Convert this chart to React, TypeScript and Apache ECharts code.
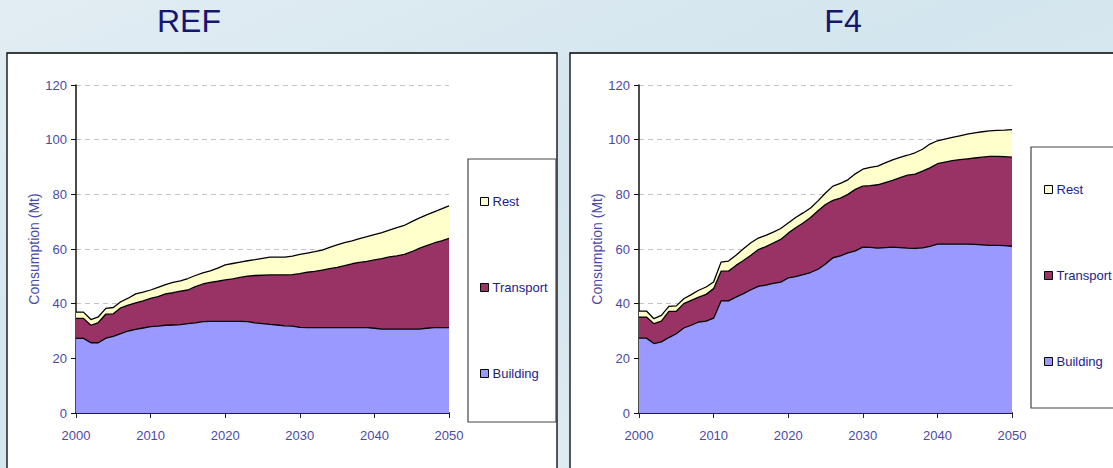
import React, { useEffect, useRef } from "react";
import * as echarts from "echarts";

// Years on the horizontal axis
const years = [
  "2000", "2001", "2002", "2003", "2004", "2005", "2006", "2007", "2008", "2009",
  "2010", "2011", "2012", "2013", "2014", "2015", "2016", "2017", "2018", "2019",
  "2020", "2021", "2022", "2023", "2024", "2025", "2026", "2027", "2028", "2029",
  "2030", "2031", "2032", "2033", "2034", "2035", "2036", "2037", "2038", "2039",
  "2040", "2041", "2042", "2043", "2044", "2045", "2046", "2047", "2048", "2049",
  "2050",
];
const labelledYears = ["2000", "2010", "2020", "2030", "2040", "2050"];

// REF scenario, consumption in Mt per sector
const refBuilding = [
  27.3, 27.3, 25.7, 25.7, 27.4, 28.0, 29.0, 30.0, 30.6, 31.1,
  31.6, 31.8, 32.1, 32.2, 32.3, 32.7, 33.0, 33.4, 33.5, 33.5,
  33.5, 33.5, 33.5, 33.4, 33.0, 32.7, 32.4, 32.2, 31.9, 31.8,
  31.3, 31.2, 31.2, 31.2, 31.2, 31.2, 31.2, 31.2, 31.2, 31.2,
  31.0, 30.7, 30.7, 30.7, 30.7, 30.7, 30.7, 31.0, 31.2, 31.2,
  31.2,
];
const refTransport = [
  7.3, 7.3, 6.4, 7.4, 8.8, 8.3, 9.5, 9.5, 9.7, 9.9,
  10.3, 10.8, 11.5, 11.8, 12.3, 12.3, 13.2, 13.8, 14.3, 14.7,
  15.2, 15.6, 16.1, 16.7, 17.3, 17.7, 18.1, 18.3, 18.6, 18.8,
  19.7, 20.3, 20.6, 21.1, 21.6, 22.1, 22.7, 23.4, 23.9, 24.3,
  25.0, 25.8, 26.4, 26.8, 27.3, 28.3, 29.5, 30.2, 31.0, 31.8,
  32.7,
];
const refRest = [
  2.3, 2.3, 2.1, 2.1, 2.1, 2.3, 2.2, 2.5, 3.3, 3.2,
  3.1, 3.4, 3.4, 3.8, 3.7, 4.2, 4.1, 4.1, 4.2, 4.8,
  5.5, 5.6, 5.6, 5.6, 5.8, 6.2, 6.5, 6.5, 6.5, 6.8,
  7.0, 7.0, 7.2, 7.3, 7.8, 8.2, 8.4, 8.4, 8.7, 9.0,
  9.3, 9.5, 9.8, 10.3, 10.6, 11.0, 11.1, 11.3, 11.4, 11.7,
  11.9,
];

// F4 scenario, consumption in Mt per sector
const f4Building = [
  27.4, 27.4, 25.4, 26.0, 27.6, 29.0, 31.1, 32.1, 33.3, 33.6,
  34.7, 41.0, 41.0, 42.4, 43.7, 45.1, 46.3, 46.8, 47.4, 47.9,
  49.4, 49.9, 50.6, 51.4, 52.6, 54.5, 56.8, 57.5, 58.6, 59.3,
  60.7, 60.6, 60.3, 60.5, 60.7, 60.5, 60.3, 60.2, 60.4, 61.0,
  61.8, 61.8, 61.8, 61.8, 61.8, 61.7, 61.5, 61.3, 61.3, 61.2,
  61.0,
];
const f4Transport = [
  7.7, 7.7, 7.3, 7.6, 9.6, 8.2, 8.9, 9.1, 9.1, 9.8,
  10.8, 10.9, 10.9, 11.6, 12.1, 12.6, 13.5, 14.1, 14.8, 15.6,
  16.4, 17.9, 18.9, 20.1, 21.4, 21.8, 21.0, 21.1, 21.4, 22.5,
  22.3, 22.6, 23.2, 23.8, 24.4, 25.6, 26.7, 27.2, 28.1, 28.7,
  29.4, 30.0, 30.5, 30.9, 31.2, 31.6, 32.1, 32.6, 32.6, 32.6,
  32.6,
];
const f4Rest = [
  2.2, 2.2, 1.8, 2.1, 1.8, 2.0, 1.8, 2.1, 2.5, 2.7,
  2.4, 3.3, 3.7, 3.7, 4.3, 4.6, 4.2, 4.1, 4.0, 4.0,
  3.7, 3.7, 3.7, 3.5, 3.6, 4.2, 5.2, 5.4, 5.3, 5.7,
  6.2, 6.7, 6.8, 7.2, 7.5, 7.4, 7.3, 7.8, 8.0, 8.7,
  8.4, 8.4, 8.5, 8.7, 9.0, 9.2, 9.3, 9.3, 9.5, 9.7,
  10.1,
];

const panelTitles = ["REF", "F4"];
const axisTitle = "Consumption (Mt)";
const legendOrder = ["Rest", "Transport", "Building"];
const sectorColors: Record<string, string> = {
  Building: "#9999ff",
  Transport: "#993366",
  Rest: "#ffffcc",
};

const FONT = "'Liberation Sans', Arial, sans-serif";
const AXIS_TEXT = "#4a4aa6";
const LEGEND_TEXT = "#1c1c8c";

export default function App() {
  const ref = useRef<HTMLDivElement>(null);

  useEffect(() => {
    document.body.style.margin = "0";
    const chart = echarts.init(ref.current!, null, { renderer: "svg" });

    const panels = [
      { building: refBuilding, transport: refTransport, rest: refRest },
      { building: f4Building, transport: f4Transport, rest: f4Rest },
    ];
    const gridLeft = [76, 639];

    const xAxes = panels.map((_, i) => ({
      type: "category",
      gridIndex: i,
      data: years,
      boundaryGap: false,
      axisLine: { lineStyle: { color: "#222", width: 2 } },
      axisTick: {
        length: 5,
        lineStyle: { color: "#222" },
        interval: (_idx: number, v: string) => labelledYears.includes(v),
      },
      axisLabel: {
        interval: (_idx: number, v: string) => labelledYears.includes(v),
        color: AXIS_TEXT,
        fontFamily: FONT,
        fontSize: 13,
        margin: 16,
      },
      splitLine: { show: false },
    }));

    const yAxes = panels.map((_, i) => ({
      type: "value",
      gridIndex: i,
      min: 0,
      max: 120,
      interval: 20,
      name: axisTitle,
      nameLocation: "middle",
      nameGap: 35,
      nameTextStyle: { color: AXIS_TEXT, fontFamily: FONT, fontSize: 14 },
      axisLine: { show: true, lineStyle: { color: "#111", width: 1.5 } },
      axisTick: { show: true, length: 5, lineStyle: { color: "#111" } },
      axisLabel: { color: AXIS_TEXT, fontFamily: FONT, fontSize: 13, margin: 9 },
      splitLine: { show: true, lineStyle: { color: "#c4c4c4", type: [5, 4], width: 1 } },
    }));

    const series: any[] = [];
    panels.forEach((p, i) => {
      const layers: [string, number[]][] = [
        ["Building", p.building],
        ["Transport", p.transport],
        ["Rest", p.rest],
      ];
      layers.forEach(([name, values]) => {
        series.push({
          type: "line",
          name,
          xAxisIndex: i,
          yAxisIndex: i,
          stack: "total" + i,
          data: values,
          symbol: "none",
          smooth: false,
          lineStyle: { color: "#000", width: 1.3 },
          itemStyle: { color: sectorColors[name], borderColor: "#000", borderWidth: 1 },
          areaStyle: { color: sectorColors[name], opacity: 1 },
          emphasis: { disabled: true },
        });
      });
    });

    const legendBase = {
      orient: "vertical",
      data: legendOrder,
      icon: "rect",
      itemWidth: 8,
      itemHeight: 8,
      itemGap: 73,
      padding: 0,
      selectedMode: false,
      itemStyle: { borderColor: "#000", borderWidth: 1 },
      textStyle: { color: LEGEND_TEXT, fontFamily: FONT, fontSize: 13, padding: [0, 0, 0, -1] },
    };

    chart.setOption({
      animation: false,
      graphic: [
        {
          type: "rect",
          z: -20,
          shape: { x: 0, y: 0, width: 1113, height: 468 },
          style: {
            fill: new echarts.graphic.LinearGradient(0, 0, 1, 1, [
              { offset: 0, color: "#e2edf3" },
              { offset: 0.45, color: "#d3e5ee" },
              { offset: 1, color: "#e6f0f5" },
            ]),
          },
        },
        {
          type: "rect",
          z: -10,
          shape: { x: 7, y: 53, width: 550, height: 430 },
          style: { fill: "#fff", stroke: "#000", lineWidth: 1.3 },
        },
        {
          type: "rect",
          z: -10,
          shape: { x: 570, y: 53, width: 560, height: 430 },
          style: { fill: "#fff", stroke: "#000", lineWidth: 1.3 },
        },
        {
          type: "rect",
          z: -5,
          shape: { x: 468, y: 159, width: 88, height: 263 },
          style: { fill: "#fff", stroke: "#444", lineWidth: 1.2 },
        },
        {
          type: "rect",
          z: -5,
          shape: { x: 1031, y: 147, width: 100, height: 261 },
          style: { fill: "#fff", stroke: "#444", lineWidth: 1.2 },
        },
        {
          type: "text",
          x: 189,
          y: 21,
          style: {
            text: panelTitles[0],
            fill: "#161672",
            font: "32px 'Liberation Sans', Arial, sans-serif",
            textAlign: "center",
            textVerticalAlign: "middle",
          },
        },
        {
          type: "text",
          x: 843,
          y: 21,
          style: {
            text: panelTitles[1],
            fill: "#161672",
            font: "32px 'Liberation Sans', Arial, sans-serif",
            textAlign: "center",
            textVerticalAlign: "middle",
          },
        },
      ],
      grid: gridLeft.map((left) => ({ left, top: 85, width: 373, height: 328, containLabel: false })),
      xAxis: xAxes,
      yAxis: yAxes,
      legend: [
        { ...legendBase, left: 480, top: 195 },
        { ...legendBase, left: 1044, top: 183 },
      ],
      series,
    } as any);

    return () => chart.dispose();
  }, []);

  return <div ref={ref} style={{ width: 1113, height: 468 }} />;
}
